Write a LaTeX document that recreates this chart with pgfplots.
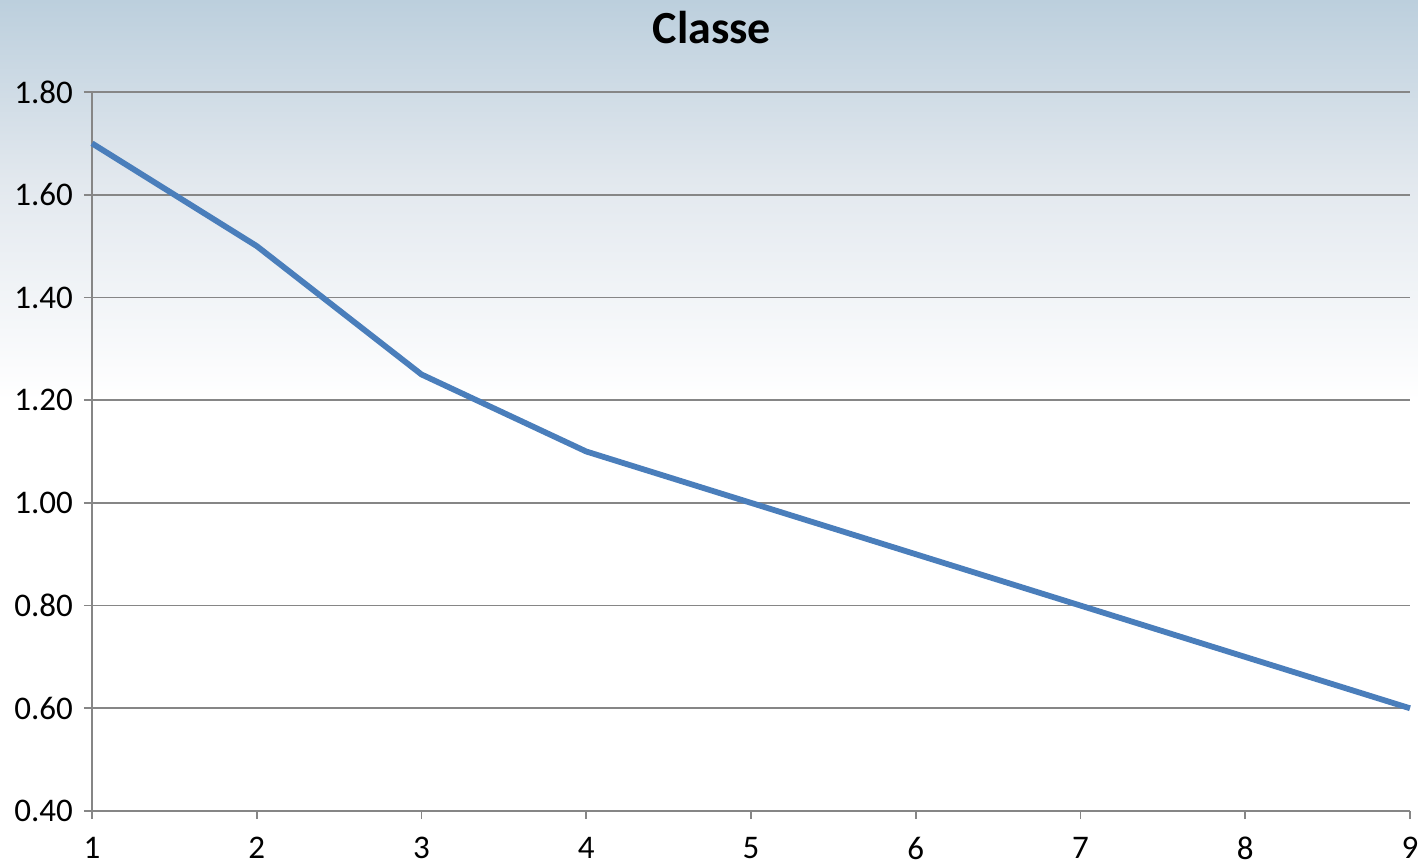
\documentclass[border=0pt]{standalone}
\usepackage{fontspec}
\setmainfont{Carlito}
\usepackage{pgfplots}
\pgfplotsset{compat=1.18}
\definecolor{linecol}{RGB}{74,126,187}
\definecolor{gridcol}{RGB}{134,134,134}
\definecolor{bgtop}{RGB}{188,207,221}
\definecolor{bgmid}{RGB}{226,232,238}
\begin{document}
\begin{tikzpicture}
% background (1px = 0.5pt)
\fill[white] (0,0) rectangle (709pt,433.5pt);
\shade[top color=bgtop, bottom color=bgmid] (0,343.5pt) rectangle (709pt,433.5pt);
\shade[top color=bgmid, bottom color=white] (0,233.5pt) rectangle (709pt,343.5pt);
\begin{axis}[
  at={(46pt,28pt)}, anchor=south west,
  scale only axis,
  width=659pt, height=359.5pt,
  xmin=1, xmax=9, ymin=0.4, ymax=1.8,
  xtick={1,...,9},
  ytick={0.4,0.6,...,1.8},
  axis x line*=bottom,
  axis y line*=left,
  axis line style={gridcol, line width=0.9pt, -},
  ymajorgrids,
  major grid style={gridcol, line width=0.9pt},
  tick style={gridcol, line width=0.9pt},
  tick align=outside,
  major tick length=4pt,
  xtick pos=bottom, ytick pos=left,
  /pgf/number format/assume math mode=true,
  yticklabel style={/pgf/number format/fixed, /pgf/number format/fixed zerofill, /pgf/number format/precision=2, font=\fontsize{16.5}{18}\selectfont, xshift=-2pt},
  xticklabel style={font=\fontsize{16.5}{18}\selectfont, yshift=-5.5pt},
  clip=false,
]
\addplot[linecol, line width=2.9pt, line join=round] coordinates {
(1,1.70) (2,1.50) (3,1.25) (4,1.10) (5,1.00) (6,0.90) (7,0.80) (8,0.70) (9,0.60)
};
\end{axis}
\node[font=\bfseries\fontsize{23}{26}\selectfont] at (356pt,419.5pt) {Classe};
\pgfresetboundingbox
\path[use as bounding box] (0,0) rectangle (709pt,433.5pt);
\end{tikzpicture}
\end{document}
